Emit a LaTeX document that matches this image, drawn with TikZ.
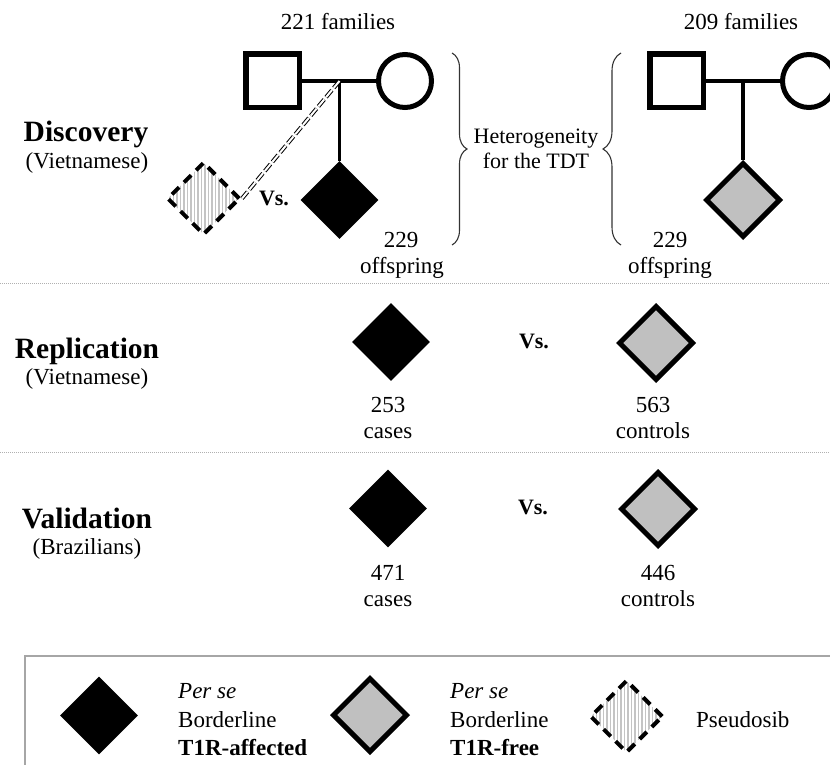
\documentclass[tikz,border=0pt]{standalone}
\usepackage{fontspec}
\setmainfont{Liberation Serif}
\usetikzlibrary{shapes.geometric,decorations.pathreplacing}
\definecolor{gfill}{HTML}{C0C0C0}
\definecolor{stripe}{HTML}{C4C4C4}
\definecolor{sepgray}{HTML}{B0B0B0}
\begin{document}
\begin{tikzpicture}[x=1pt,y=-1pt,
  txt/.style={font=\fontsize{23}{27}\selectfont, inner sep=0pt, anchor=base},
  htxt/.style={font=\fontsize{22}{26}\selectfont, inner sep=0pt, anchor=base},
  head/.style={font=\fontsize{29.5}{34}\selectfont\bfseries, inner sep=0pt, anchor=base},
  vs/.style={font=\fontsize{22}{26}\selectfont\bfseries, inner sep=0pt, anchor=base},
  ltxt/.style={font=\fontsize{23}{27}\selectfont, inner sep=0pt, anchor=base west},
  male/.style={rectangle, draw, line width=5.5pt, minimum size=53.5pt, inner sep=0pt},
  female/.style={circle, draw, line width=5pt, minimum size=53pt, inner sep=0pt},
  aff/.style={diamond, fill=black, minimum width=78pt, minimum height=78pt, inner sep=0pt, aspect=1},
  free/.style={diamond, fill=gfill, draw=black, line width=5pt, minimum width=75pt, minimum height=75pt, inner sep=0pt, aspect=1},
  pseudo/.style={diamond, draw=black, line width=4pt, dash pattern=on 10pt off 7pt,
    minimum width=73pt, minimum height=73pt, inner sep=0pt, aspect=1,
    path picture={\foreach \k in {-44,-40.5,...,44}{\draw[stripe, solid, line width=1.3pt]
      ([xshift=\k pt]path picture bounding box.north) -- ([xshift=\k pt]path picture bounding box.south);}}},
  conn/.style={draw=black, line width=3.5pt},
  dbl/.style={draw=black, double=white, double distance=2pt, line width=1pt, dash pattern=on 9pt off 3pt},
  bracestyle/.style={draw=black!80, line width=1.1pt, decorate},
  sepline/.style={draw=sepgray, line width=1pt, dash pattern=on 1pt off 1pt},
  legendframe/.style={draw=black!35, line width=1.5pt}
]
\useasboundingbox (0,0) rectangle (830,765);
\clip (0,0) rectangle (830,765);

% ---------- Discovery ----------
\node[head] (disc) at (86,142) {Discovery};
\node[txt] (discv) at (87,168) {(Vietnamese)};

\node[txt] (fam1) at (338,30) {221 families};
\node[male] (m1) at (272.5,81) {};
\node[female] (f1) at (405,81) {};
\coordinate (j1) at (339.5,81);
\draw[conn] (m1) -- (f1);
\node[aff] (c1) at (339.5,200) {};
\draw[conn] (j1) -- (c1);
\node[pseudo] (p1) at (203.5,198.5) {};
\draw[dbl] (j1) -- (p1.east);
\node[vs] (vs1) at (274,205) {Vs.};
\node[txt] (n1) at (401,247) {229};
\node[txt] (o1) at (402,273) {offspring};

\draw[bracestyle, decoration={brace, amplitude=15pt}] (452,53) -- (452,245);
\node[htxt] (het1) at (536,143) {Heterogeneity};
\node[htxt] (het2) at (536,168) {for the TDT};
\draw[bracestyle, decoration={brace, amplitude=18pt}] (621,245) -- (621,53);

\node[txt] (fam2) at (741,30) {209 families};
\node[male] (m2) at (676.5,81) {};
\node[female] (f2) at (809,81) {};
\coordinate (j2) at (743,81);
\draw[conn] (m2) -- (f2);
\node[free] (c2) at (743,200) {};
\draw[conn] (j2) -- (c2);
\node[txt] (n2) at (670,247) {229};
\node[txt] (o2) at (670,273) {offspring};

\draw[sepline] (0,283) -- (830,283);

% ---------- Replication ----------
\node[head] (rep) at (87,358) {Replication};
\node[txt] (repv) at (87,384) {(Vietnamese)};
\node[aff] (c3) at (391,342) {};
\node[vs] (vs2) at (534,348) {Vs.};
\node[free] (k3) at (656,343) {};
\node[txt] (n3) at (388,412) {253};
\node[txt] (t3) at (388,438) {cases};
\node[txt] (n4) at (653,412) {563};
\node[txt] (t4) at (653,438) {controls};

\draw[sepline] (0,452) -- (830,452);

% ---------- Validation ----------
\node[head] (val) at (87,528) {Validation};
\node[txt] (valb) at (87,554) {(Brazilians)};
\node[aff] (c5) at (388,508.5) {};
\node[vs] (vs3) at (533,514) {Vs.};
\node[free] (k5) at (658,509) {};
\node[txt] (n5) at (388,580) {471};
\node[txt] (t5) at (388,606) {cases};
\node[txt] (n6) at (658,580) {446};
\node[txt] (t6) at (658,606) {controls};

% ---------- Legend ----------
\draw[legendframe] (25,768) -- (25,656) -- (832,656);
\node[aff] (lg1) at (99,715.5) {};
\node[ltxt] (la1) at (178,698) {\itshape Per se};
\node[ltxt] (la2) at (178,727) {Borderline};
\node[ltxt] (la3) at (178,755) {\bfseries T1R-affected};
\node[free] (lg2) at (370,715) {};
\node[ltxt] (lb1) at (450,698) {\itshape Per se};
\node[ltxt] (lb2) at (450,727) {Borderline};
\node[ltxt] (lb3) at (450,755) {\bfseries T1R-free};
\node[pseudo] (lg3) at (626.5,716.5) {};
\node[ltxt] (lc1) at (696,727) {Pseudosib};
\end{tikzpicture}
\end{document}
